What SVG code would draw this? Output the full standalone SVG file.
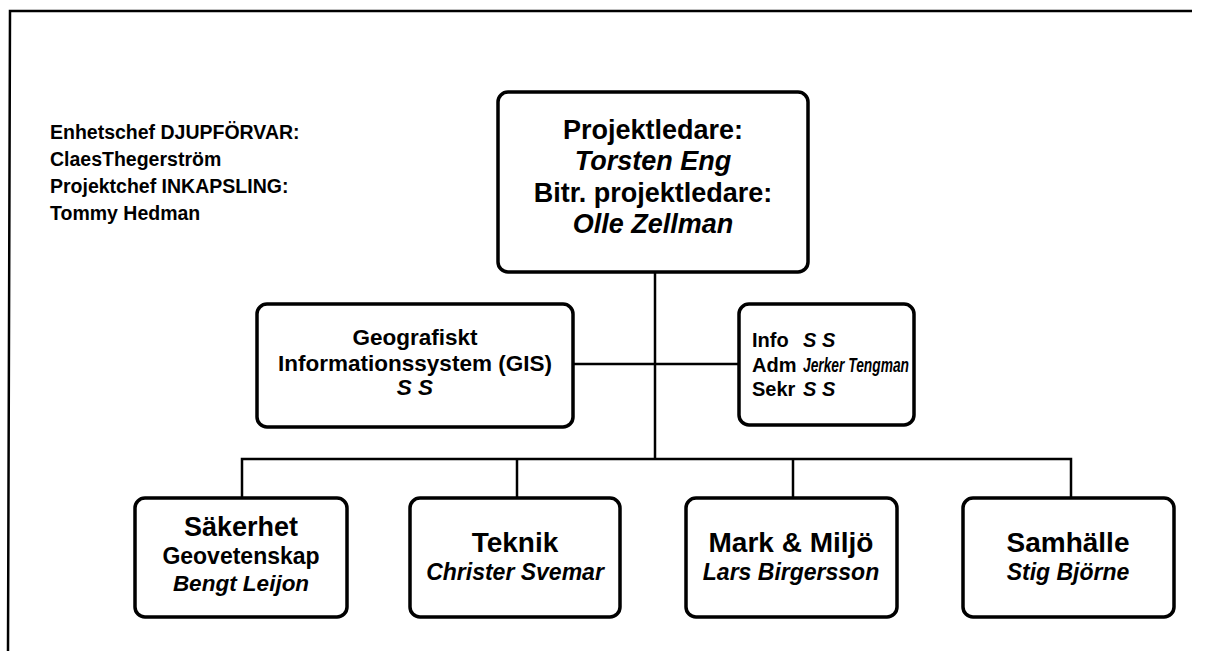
<svg xmlns="http://www.w3.org/2000/svg" width="1206" height="651" viewBox="0 0 1206 651">
<style>
.box{fill:#fff;stroke:#000;stroke-width:3.5}
.ln{stroke:#000;stroke-width:2.5;fill:none}
text{font-family:"Liberation Sans",Arial,sans-serif;font-weight:bold;fill:#000}
.c{text-anchor:middle}
.i{font-style:italic}
</style>
<rect width="1206" height="651" fill="#fff"/>
<g id="frame">
<path class="ln" d="M8,651 L10,11 L1192,11" stroke-width="3"/>
</g>
<g id="notes">
<text x="50" y="139" font-size="19.5">Enhetschef DJUPFÖRVAR:</text>
<text x="50" y="166" font-size="19.5">ClaesThegerström</text>
<text x="50" y="193" font-size="19.5">Projektchef INKAPSLING:</text>
<text x="50" y="220" font-size="19.5">Tommy Hedman</text>
</g>
<g id="connectors">
<path class="ln" d="M655,272 V459"/>
<path class="ln" d="M573,364 H739"/>
<path class="ln" d="M242,498 V459 H1071 V498"/>
<path class="ln" d="M517,459 V498"/>
<path class="ln" d="M793,459 V498"/>
</g>
<g id="projektledare">
<rect class="box" x="498" y="92" width="310" height="180" rx="10"/>
<text class="c" x="653" y="139" font-size="27">Projektledare:</text>
<text class="c i" x="653" y="170" font-size="27">Torsten Eng</text>
<text class="c" x="653" y="202" font-size="27">Bitr. projektledare:</text>
<text class="c i" x="653" y="233" font-size="27">Olle Zellman</text>
</g>
<g id="gis">
<rect class="box" x="257" y="304" width="316" height="123" rx="10"/>
<text class="c" x="415" y="345" font-size="22.5">Geografiskt</text>
<text class="c" x="415" y="371" font-size="22.5">Informationssystem (GIS)</text>
<text class="c i" x="415" y="395" font-size="22.5">S S</text>
</g>
<g id="info">
<rect class="box" x="739" y="304" width="175" height="121" rx="10"/>
<text x="752" y="347" font-size="20">Info</text>
<text class="i" x="803" y="347" font-size="20">S S</text>
<text x="752" y="372" font-size="20">Adm</text>
<text class="i" x="803" y="372" font-size="20" textLength="106" lengthAdjust="spacingAndGlyphs">Jerker Tengman</text>
<text x="752" y="396" font-size="20">Sekr</text>
<text class="i" x="803" y="396" font-size="20">S S</text>
</g>
<g id="sakerhet">
<rect class="box" x="135" y="498" width="212" height="119" rx="10"/>
<text class="c" x="241" y="536" font-size="27">Säkerhet</text>
<text class="c" x="241" y="564" font-size="23">Geovetenskap</text>
<text class="c i" x="241" y="591" font-size="22.5">Bengt Leijon</text>
</g>
<g id="teknik">
<rect class="box" x="410" y="498" width="210" height="119" rx="10"/>
<text class="c" x="515" y="552" font-size="28">Teknik</text>
<text class="c i" x="515" y="580" font-size="23">Christer Svemar</text>
</g>
<g id="markmiljo">
<rect class="box" x="686" y="498" width="211" height="119" rx="10"/>
<text class="c" x="791" y="552" font-size="28">Mark &amp; Miljö</text>
<text class="c i" x="791" y="580" font-size="23">Lars Birgersson</text>
</g>
<g id="samhalle">
<rect class="box" x="963" y="498" width="211" height="119" rx="10"/>
<text class="c" x="1068" y="552" font-size="28">Samhälle</text>
<text class="c i" x="1068" y="580" font-size="23">Stig Björne</text>
</g>
</svg>
